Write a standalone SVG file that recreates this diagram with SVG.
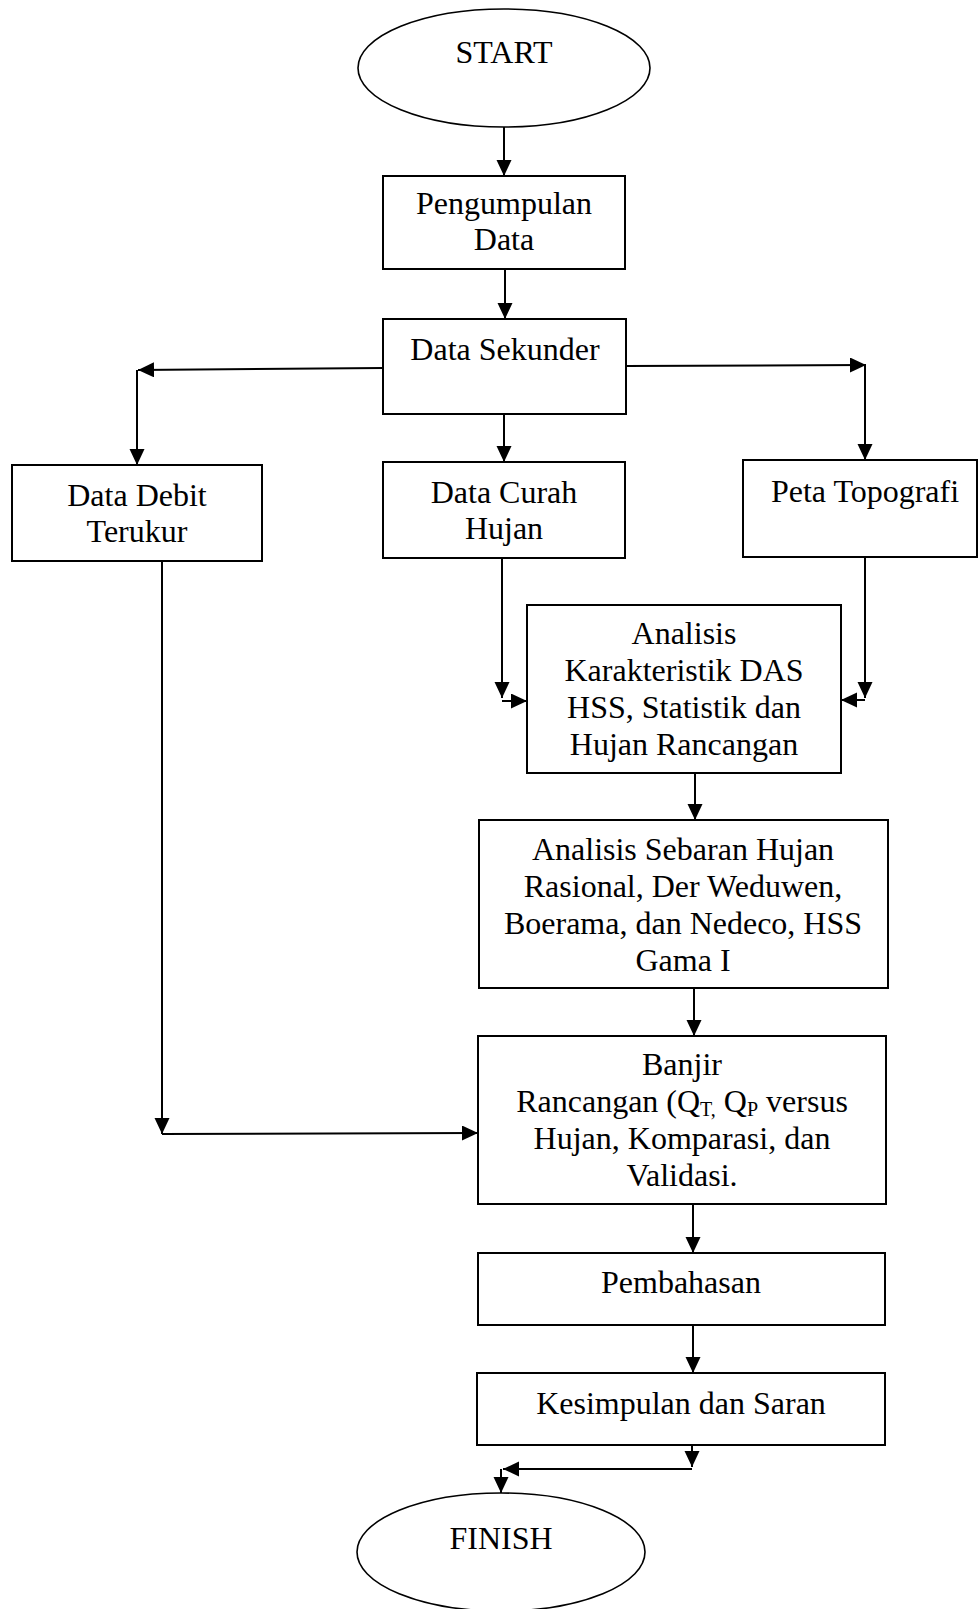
<svg xmlns="http://www.w3.org/2000/svg" width="979" height="1609" viewBox="0 0 979 1609">
<style>
  .box { fill: #ffffff; stroke: #000000; stroke-width: 2; }
  .term { fill: #ffffff; stroke: #000000; stroke-width: 1.6; }
  .lbl { font-family: "Liberation Serif", "Times New Roman", serif; font-size: 32px; fill: #000000; text-anchor: middle; }
  .sub { font-size: 20px; }
  .conn { fill: none; stroke: #000000; stroke-width: 2; }
</style>
<defs>
  <marker id="arrow" markerUnits="userSpaceOnUse" markerWidth="17" markerHeight="16" refX="16" refY="7.5" orient="auto">
    <path d="M0,0 L16,7.5 L0,15 z" fill="#000000"/>
  </marker>
</defs>
<rect x="0" y="0" width="979" height="1609" fill="#ffffff"/>

<g id="connectors">
  <line class="conn" x1="504" y1="127" x2="504" y2="176" marker-end="url(#arrow)"/>
  <line class="conn" x1="505" y1="269" x2="505" y2="319" marker-end="url(#arrow)"/>
  <line class="conn" x1="383" y1="368" x2="138" y2="370" marker-end="url(#arrow)"/>
  <line class="conn" x1="137" y1="370" x2="137" y2="465" marker-end="url(#arrow)"/>
  <line class="conn" x1="504" y1="414" x2="504" y2="462" marker-end="url(#arrow)"/>
  <line class="conn" x1="626" y1="366" x2="866" y2="365" marker-end="url(#arrow)"/>
  <line class="conn" x1="865" y1="365" x2="865" y2="460" marker-end="url(#arrow)"/>
  <line class="conn" x1="502" y1="558" x2="502" y2="698" marker-end="url(#arrow)"/>
  <line class="conn" x1="502" y1="701" x2="527" y2="701" marker-end="url(#arrow)"/>
  <line class="conn" x1="865" y1="557" x2="865" y2="698" marker-end="url(#arrow)"/>
  <line class="conn" x1="865" y1="700" x2="841" y2="700" marker-end="url(#arrow)"/>
  <line class="conn" x1="695" y1="773" x2="695" y2="820" marker-end="url(#arrow)"/>
  <line class="conn" x1="694" y1="988" x2="694" y2="1036" marker-end="url(#arrow)"/>
  <line class="conn" x1="162" y1="561" x2="162" y2="1134" marker-end="url(#arrow)"/>
  <line class="conn" x1="162" y1="1134" x2="478" y2="1133" marker-end="url(#arrow)"/>
  <line class="conn" x1="693" y1="1204" x2="693" y2="1253" marker-end="url(#arrow)"/>
  <line class="conn" x1="693" y1="1325" x2="693" y2="1373" marker-end="url(#arrow)"/>
  <line class="conn" x1="692" y1="1445" x2="692" y2="1467" marker-end="url(#arrow)"/>
  <line class="conn" x1="692" y1="1469" x2="503" y2="1469" marker-end="url(#arrow)"/>
  <line class="conn" x1="501" y1="1469" x2="501" y2="1493" marker-end="url(#arrow)"/>
</g>

<g id="start">
  <ellipse class="term" cx="504" cy="68" rx="146" ry="59"/>
  <text class="lbl" x="504" y="63">START</text>
</g>

<g id="pengumpulan">
  <rect class="box" x="383" y="176" width="242" height="93"/>
  <text class="lbl" x="504" y="214">Pengumpulan</text>
  <text class="lbl" x="504" y="250">Data</text>
</g>

<g id="data-sekunder">
  <rect class="box" x="383" y="319" width="243" height="95"/>
  <text class="lbl" x="505" y="360">Data Sekunder</text>
</g>

<g id="data-debit">
  <rect class="box" x="12" y="465" width="250" height="96"/>
  <text class="lbl" x="137" y="506">Data Debit</text>
  <text class="lbl" x="137" y="542">Terukur</text>
</g>

<g id="data-curah">
  <rect class="box" x="383" y="462" width="242" height="96"/>
  <text class="lbl" x="504" y="503">Data Curah</text>
  <text class="lbl" x="504" y="539">Hujan</text>
</g>

<g id="peta-topografi">
  <rect class="box" x="743" y="460" width="234" height="97"/>
  <text class="lbl" x="865" y="502">Peta Topografi</text>
</g>

<g id="analisis-karakteristik">
  <rect class="box" x="527" y="605" width="314" height="168"/>
  <text class="lbl" x="684" y="644">Analisis</text>
  <text class="lbl" x="684" y="681">Karakteristik DAS</text>
  <text class="lbl" x="684" y="718">HSS, Statistik dan</text>
  <text class="lbl" x="684" y="755">Hujan Rancangan</text>
</g>

<g id="analisis-sebaran">
  <rect class="box" x="479" y="820" width="409" height="168"/>
  <text class="lbl" x="683" y="860">Analisis Sebaran Hujan</text>
  <text class="lbl" x="683" y="897">Rasional, Der Weduwen,</text>
  <text class="lbl" x="683" y="934">Boerama, dan Nedeco, HSS</text>
  <text class="lbl" x="683" y="971">Gama I</text>
</g>

<g id="banjir-rancangan">
  <rect class="box" x="478" y="1036" width="408" height="168"/>
  <text class="lbl" x="682" y="1075">Banjir</text>
  <text class="lbl" x="682" y="1112">Rancangan (Q<tspan class="sub" dy="4">T,</tspan><tspan dy="-4"> Q</tspan><tspan class="sub" dy="4">P</tspan><tspan dy="-4"> versus</tspan></text>
  <text class="lbl" x="682" y="1149">Hujan, Komparasi, dan</text>
  <text class="lbl" x="682" y="1186">Validasi.</text>
</g>

<g id="pembahasan">
  <rect class="box" x="478" y="1253" width="407" height="72"/>
  <text class="lbl" x="681" y="1293">Pembahasan</text>
</g>

<g id="kesimpulan">
  <rect class="box" x="477" y="1373" width="408" height="72"/>
  <text class="lbl" x="681" y="1414">Kesimpulan dan Saran</text>
</g>

<g id="finish">
  <ellipse class="term" cx="501" cy="1552" rx="144" ry="59"/>
  <text class="lbl" x="501" y="1549">FINISH</text>
</g>
</svg>
